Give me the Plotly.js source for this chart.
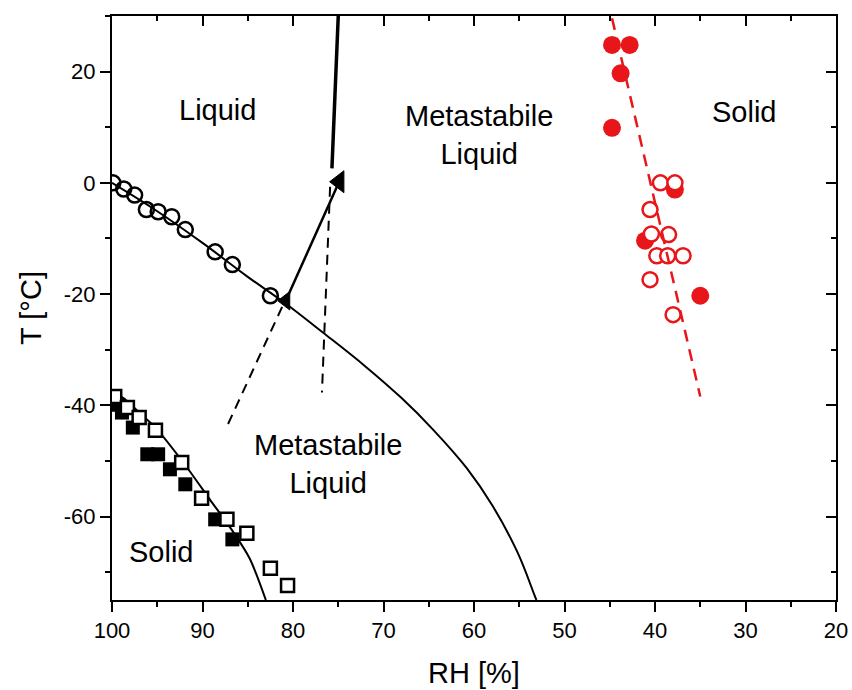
<!DOCTYPE html>
<html>
<head>
<meta charset="utf-8">
<script src="https://cdn.plot.ly/plotly-3.0.1.min.js"></script>
<style>
  html, body { margin: 0; padding: 0; background: #fff; }
  #chart { width: 852px; height: 690px; }
</style>
</head>
<body>
<div id="chart"></div>
<script>
// Deliquescence / efflorescence phase diagram: temperature vs relative humidity

// Open circles on the upper (liquid) boundary
const liqRH = [99.9, 98.7, 97.5, 96.2, 94.9, 93.4, 91.9, 88.6, 86.7, 82.5];
const liqT  = [0.0, -1.1, -2.2, -4.8, -5.2, -6.1, -8.4, -12.4, -14.7, -20.3];

// Liquid boundary curve
const liqCurveRH = [100, 95, 90, 85, 80.9, 76.7, 72, 68, 64.5, 60.8, 57.9, 55.2, 53.3, 53.1];
const liqCurveT  = [0, -5.1, -10.8, -16.9, -21.6, -26.9, -33.0, -38.7, -44.4, -51.3, -58.2, -66.4, -74.2, -75];

// Low-temperature solid boundary: filled and open squares
const solFillRH = [99.3, 98.9, 97.7, 96.1, 94.9, 93.6, 91.9, 88.6, 86.7];
const solFillT  = [-39.9, -41.3, -44.0, -48.8, -48.8, -51.5, -54.2, -60.5, -64.1];
const solOpenRH = [99.7, 98.3, 97.0, 95.2, 92.3, 90.1, 87.3, 85.1, 82.5, 80.6];
const solOpenT  = [-38.4, -40.4, -42.2, -44.5, -50.3, -56.7, -60.5, -63.0, -69.3, -72.4];

// Solid boundary curve
const solCurveRH = [100, 98.5, 97, 95.2, 92.2, 89.2, 86.6, 84.8, 83.0];
const solCurveT  = [-37.4, -39, -41.3, -44, -50.1, -56.9, -62.8, -67.5, -75];

// Efflorescence points (red)
const effFillRH = [44.75, 42.8, 43.8, 44.75, 37.8, 41.1, 35.0];
const effFillT  = [24.8, 24.8, 19.7, 9.9, -1.2, -10.4, -20.3];
const effOpenRH = [39.4, 37.8, 40.55, 40.4, 38.5, 39.8, 38.6, 36.9, 40.55, 38.0];
const effOpenT  = [0.0, 0.0, -4.8, -9.2, -9.3, -13.1, -13.1, -13.1, -17.4, -23.7];
const effLineRH = [44.75, 35.0];
const effLineT  = [29.6, -38.4];

// Arrow between the two triangle markers, its extensions and the upper boundary
const arrowRH = [80.8, 74.9];
const arrowT  = [-21.2, 0.2];
const upperRH = [75.7, 75.0];
const upperT  = [2.6, 30];
const dashARH = [81.2, 87.3];
const dashAT  = [-22.3, -43.8];
const dashBRH = [75.9, 76.8];
const dashBT  = [-0.7, -37.7];

// Axis ranges, tick labels and region labels
const rhRange = [100, 20];
const tRange  = [-75, 30];
const tTickVals = [-60, -40, -20, 0, 20];
const tTickText = ['-60', '-40', '-20', '0', '20'];
const tMinorVals = [-70, -50, -30, -10, 10, 30];
const labels = [
  {text: 'Liquid', rh: 88.3, t: 13.1},
  {text: 'Metastabile<br>Liquid', rh: 59.4, t: 8.6},
  {text: 'Solid', rh: 30.1, t: 12.7},
  {text: 'Metastabile<br>Liquid', rh: 76.1, t: -50.6},
  {text: 'Solid', rh: 94.5, t: -66.4}
];

const FONT = 'Liberation Sans, Arial, sans-serif';
const RED = 'rgb(232,22,26)';

const traces = [
  {x: liqCurveRH, y: liqCurveT, mode: 'lines', line: {color: '#000', width: 2, shape: 'spline', smoothing: 1.1}},
  {x: solCurveRH, y: solCurveT, mode: 'lines', line: {color: '#000', width: 2, shape: 'spline', smoothing: 0.8}},
  {x: dashARH, y: dashAT, mode: 'lines', line: {color: '#000', width: 2, dash: '10px,7px'}},
  {x: dashBRH, y: dashBT, mode: 'lines', line: {color: '#000', width: 2, dash: '10px,7px'}},
  {x: upperRH, y: upperT, mode: 'lines', line: {color: '#000', width: 3.5}},
  {x: arrowRH, y: arrowT, mode: 'lines', line: {color: '#000', width: 2.5}},
  {x: arrowRH, y: arrowT, mode: 'markers',
   marker: {symbol: 'triangle-left', size: [16, 19], color: 'rgb(0,0,0)', opacity: 1,
            line: {color: 'rgb(0,0,0)', width: 1}}},
  {x: liqRH, y: liqT, mode: 'markers',
   marker: {symbol: 'circle-open', size: 15, color: '#000', line: {width: 2.5}}},
  {x: solFillRH, y: solFillT, mode: 'markers',
   marker: {symbol: 'square', size: 14, color: '#000', line: {width: 0}}},
  {x: solOpenRH, y: solOpenT, mode: 'markers',
   marker: {symbol: 'square', size: 13, color: '#fff', line: {color: '#000', width: 2.5}}},
  {x: effFillRH, y: effFillT, mode: 'markers',
   marker: {symbol: 'circle', size: 18, color: RED, line: {width: 0}}},
  {x: effOpenRH, y: effOpenT, mode: 'markers',
   marker: {symbol: 'circle', size: 15, color: '#fff', line: {color: RED, width: 2.5}}},
  {x: effLineRH, y: effLineT, mode: 'lines', line: {color: RED, width: 2.5, dash: '12px,8px'}},
  // empty trace that brings up the top / right frame axes with inward ticks
  {x: [], y: [], xaxis: 'x2', yaxis: 'y2', mode: 'markers', hoverinfo: 'skip'}
];

const baseX = {
  range: rhRange, showgrid: false, zeroline: false, showline: true,
  linecolor: '#000', linewidth: 2, tickcolor: '#000', tickwidth: 2,
  dtick: 10, tick0: 0
};
const baseY = {
  range: tRange, showgrid: false, zeroline: false, showline: true,
  linecolor: '#000', linewidth: 2, tickcolor: '#000', tickwidth: 2,
  tickmode: 'array', tickvals: tTickVals, ticktext: tTickText
};

const layout = {
  width: 852, height: 690,
  margin: {l: 112, r: 16, t: 16, b: 90},
  paper_bgcolor: '#fff', plot_bgcolor: '#fff',
  showlegend: false,
  font: {family: FONT, color: '#000'},
  xaxis: Object.assign({}, baseX, {
    ticks: 'outside', ticklen: 10,
    minor: {dtick: 5, ticks: 'outside', ticklen: 5, tickwidth: 2, tickcolor: '#000'},
    tickfont: {size: 22, family: FONT},
    title: {text: 'RH [%]', font: {size: 29, family: FONT}, standoff: 20}
  }),
  xaxis2: Object.assign({}, baseX, {
    overlaying: 'x', side: 'top', anchor: 'y2', ticks: 'inside', ticklen: 10,
    showticklabels: false,
    minor: {dtick: 5, ticks: 'inside', ticklen: 5, tickwidth: 2, tickcolor: '#000'}
  }),
  yaxis: Object.assign({}, baseY, {
    ticks: 'outside', ticklen: 10,
    minor: {tickmode: 'array', tickvals: tMinorVals, ticks: 'outside', ticklen: 5, tickwidth: 2, tickcolor: '#000'},
    tickfont: {size: 22, family: FONT},
    title: {text: 'T [°C]', font: {size: 29, family: FONT}, standoff: 14}
  }),
  yaxis2: Object.assign({}, baseY, {
    overlaying: 'y', side: 'right', anchor: 'x2', ticks: 'inside', ticklen: 10,
    showticklabels: false,
    minor: {tickmode: 'array', tickvals: tMinorVals, ticks: 'inside', ticklen: 5, tickwidth: 2, tickcolor: '#000'}
  }),
  annotations: labels.map(l => ({
    x: l.rh, y: l.t, xref: 'x', yref: 'y', text: l.text, showarrow: false,
    xanchor: 'center', yanchor: 'middle', align: 'center',
    font: {size: 29, family: FONT, color: '#000'}
  }))
};

Plotly.newPlot('chart', traces, layout, {displayModeBar: false, staticPlot: true});
</script>
</body>
</html>
